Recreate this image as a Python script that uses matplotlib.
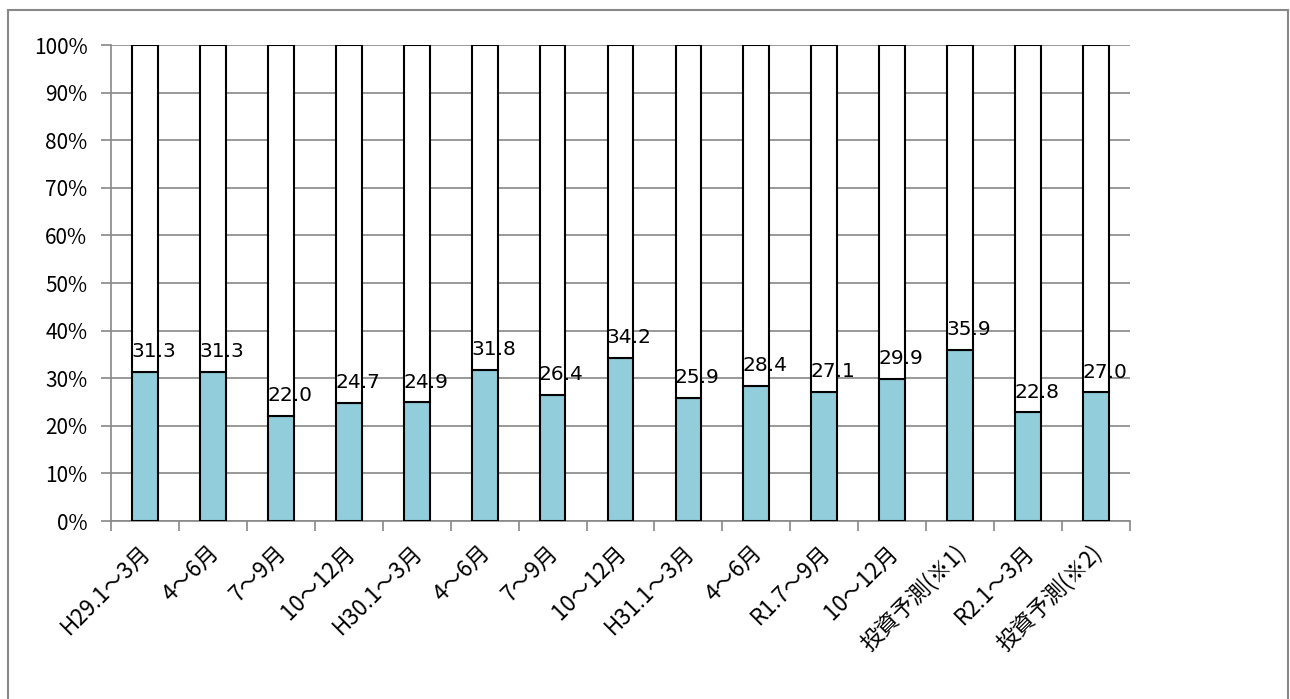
import matplotlib
matplotlib.use("Agg")
import matplotlib.pyplot as plt
from matplotlib.patches import Rectangle
from matplotlib.ticker import MultipleLocator, PercentFormatter
from matplotlib.transforms import ScaledTranslation
import numpy as np

plt.rcParams['font.family'] = ['Noto Sans CJK JP', 'DejaVu Sans']

# 期間
labels = ["H29.1～3月", "4～6月", "7～9月", "10～12月", "H30.1～3月", "4～6月",
          "7～9月", "10～12月", "H31.1～3月", "4～6月", "R1.7～9月", "10～12月",
          "投資予測(※1)", "R2.1～3月", "投資予測(※2)"]
# 割合(%)
values = [31.3, 31.3, 22.0, 24.7, 24.9, 31.8, 26.4, 34.2, 25.9, 28.4,
          27.1, 29.9, 35.9, 22.8, 27.0]
rest = [100 - v for v in values]

fig = plt.figure(figsize=(12.9, 6.99), dpi=100)
# 外枠
fig.patches.append(Rectangle((8 / 1290, -0.05), 1280 / 1290, 1.05 - 10 / 699,
                             transform=fig.transFigure, fill=False,
                             edgecolor='#888888', linewidth=1.5))

ax = fig.add_axes([111 / 1290, 178 / 699, 1019 / 1290, 476 / 699])
x = np.arange(len(values))
ax.bar(x, values, width=0.38, color='#92cddc', edgecolor='black', linewidth=1.5, zorder=3)
ax.bar(x, rest, bottom=values, width=0.38, color='white', edgecolor='black', linewidth=1.5, zorder=3)

for i, v in enumerate(values):
    ax.text(i + 0.13, v + 2.3, f"{v:.1f}", ha='center', va='bottom', fontsize=14.5,
            family=['DejaVu Sans'], zorder=4)

ax.set_xlim(-0.5, len(values) - 0.5)
ax.set_ylim(0, 100)
ax.yaxis.set_major_locator(MultipleLocator(10))
ax.yaxis.set_major_formatter(PercentFormatter(decimals=0))
ax.grid(axis='y', color='#888888', linewidth=1.2, zorder=0)
ax.set_axisbelow(True)

# x軸ラベル(斜め)
ax.set_xticks(np.arange(-0.5, len(values)))
ax.set_xticklabels([])
lab_tr = ax.get_xaxis_transform() + ScaledTranslation(-0.06, -0.2, fig.dpi_scale_trans)
for i, lab in enumerate(labels):
    ax.text(i, 0, lab, transform=lab_tr, rotation=45, ha='right', va='top',
            rotation_mode='anchor', fontsize=16)

ax.tick_params(axis='x', length=7, color='#888888', width=1.2)
ax.tick_params(axis='y', length=7, color='#888888', width=1.2, labelsize=15, pad=10)
for s in ['top', 'right']:
    ax.spines[s].set_visible(False)
for s in ['left', 'bottom']:
    ax.spines[s].set_color('#888888')
    ax.spines[s].set_linewidth(1.2)

fig.savefig("out.png", dpi=100, facecolor='white')
